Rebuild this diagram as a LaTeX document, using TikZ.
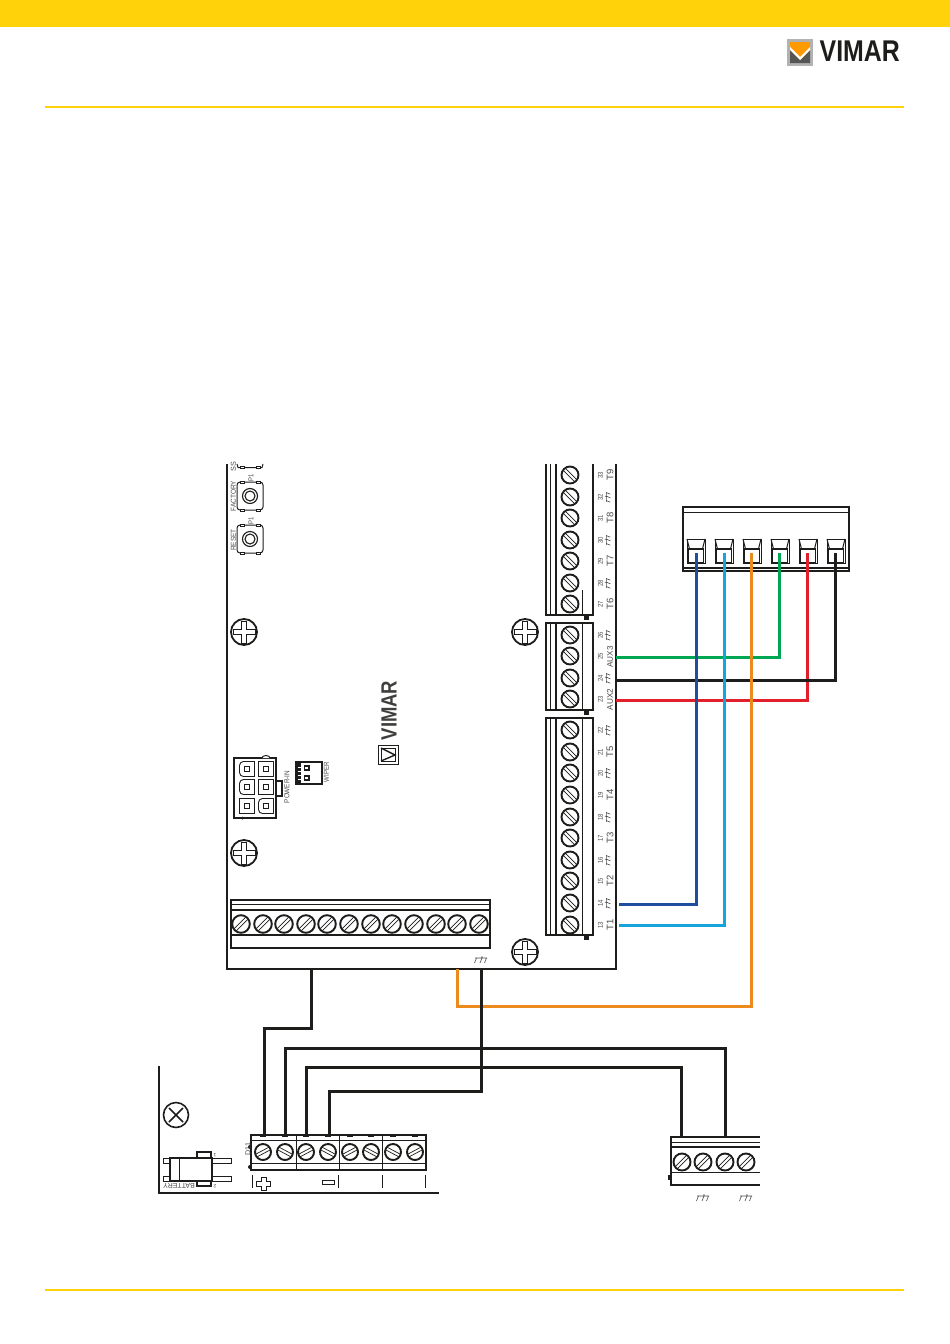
\documentclass[tikz,border=0pt]{standalone}
\usepackage{fontspec}
\setmainfont{Liberation Sans}
\definecolor{vyellow}{HTML}{FFD20A}
\definecolor{vblack}{HTML}{1D1D1B}
\definecolor{vgreen}{HTML}{00A651}
\definecolor{vred}{HTML}{E2202C}
\definecolor{vblue}{HTML}{1F4E9E}
\definecolor{vcyan}{HTML}{15A5DC}
\definecolor{vorange}{HTML}{EC8A1E}
\definecolor{tgrey}{HTML}{4A4A4A}
\tikzset{
  heavy/.style={draw=vblack,line width=2.2pt},
  mid/.style={draw=vblack,line width=1.5pt},
  fine/.style={draw=vblack,line width=0.7pt},
  wirek/.style={draw=vblack,line width=3pt,line join=miter},
  wirec/.style={line width=3pt,line join=miter},
  tiny/.style={inner sep=0pt,text=tgrey,font=\fontsize{7.2}{7.2}\selectfont,rotate=90},
  tinyn/.style={inner sep=0pt,text=tgrey,font=\fontsize{7}{7}\selectfont,rotate=90,xscale=.85},
  tlabel/.style={inner sep=0pt,text=tgrey,font=\fontsize{9.5}{9.5}\selectfont,rotate=90},
}
\newcommand{\screwhead}[4]{%
  \begin{scope}[shift={(#1,#2)},rotate=#4]
    \draw[draw=vblack,line width=1.9pt,fill=white] (0,0) circle (#3pt);
    \draw[fine] (-#3*.86,-1.5)--(#3*.86,-1.5);
    \draw[fine] (-#3*.86,1.5)--(#3*.86,1.5);
  \end{scope}}
\newcommand{\gndsym}[4]{%
  \begin{scope}[shift={(#1,#2)},rotate=#3,scale=#4]
    \draw[tgrey,line width=.6pt] (-6,-2)--(6,-2) (1,-4)--(1,-2)
      (-4.5,-2)--(-6.5,3) (1,-2)--(-1,3) (5.5,-2)--(3.5,3);
  \end{scope}}
\newcommand{\phillips}[2]{%
  \begin{scope}[shift={(#1,#2)}]
    \draw[line width=1.8pt,draw=vblack,fill=white] (0,0) circle (13pt);
    \draw[line width=.8pt,draw=vblack] (-2.5,-11)--(-2.5,-2.5)--(-11,-2.5)--(-11,2.5)--(-2.5,2.5)--(-2.5,11)--(2.5,11)--(2.5,2.5)--(11,2.5)--(11,-2.5)--(2.5,-2.5)--(2.5,-11)--cycle;
  \end{scope}}
\newcommand{\pushbtn}[2]{%
  \begin{scope}[shift={(#1,#2)}]
    \draw[line width=1pt,draw=vblack,rounded corners=3pt] (-13,-14) rectangle (13,14);
    \foreach \sx in {-8,8} \foreach \sy in {-14,14}
      \fill[white,draw=vblack,line width=.6pt] (\sx-2,\sy-1) rectangle (\sx+2,\sy+1);
    \draw[line width=1.1pt,draw=vblack] (0,0) circle (7.5pt);
    \draw[line width=1.1pt,draw=vblack] (0,0) circle (5pt);
  \end{scope}}
\newcommand{\cellbox}[1]{%
  \begin{scope}[shift={(#1,0)}]
    \draw[line width=1pt,draw=vblack] (-9,539) rectangle (9,563);
    \draw[line width=1pt,draw=vblack] (-9,539)--(-6.5,549) (9,539)--(6.5,549);
    \draw[line width=1.6pt,draw=vblack] (-7.5,549) rectangle (7.5,563);
  \end{scope}}
\newcommand{\powercell}[3]{%
  \begin{scope}[shift={(#1,#2)}]
    \ifnum#3=1
      \draw[line width=.9pt,draw=vblack,rounded corners=4pt] (0,-7.5)--(-7.5,-7.5)--(-7.5,7.5)--(0,7.5) [sharp corners] --(7.5,7.5)--(7.5,-7.5)--cycle;
    \else
      \draw[line width=.9pt,draw=vblack] (-7.5,-7.5) rectangle (7.5,7.5);
    \fi
    \draw[line width=1.1pt,draw=vblack] (-2.8,-2.5) rectangle (2.8,2.5);
  \end{scope}}
\begin{document}
\begin{tikzpicture}[x=1pt,y=-1pt,line cap=butt]
\useasboundingbox (0,0) rectangle (950,1344);
% page furniture
\fill[vyellow] (0,0) rectangle (950,27);
\draw[vyellow,line width=2pt] (45,107)--(904,107);
\draw[vyellow,line width=2pt] (45,1290)--(904,1290);
% top logo
\fill[gray!60] (787,39) rectangle (813,66);
\fill[orange!80!yellow] (790,42) rectangle (810,63);
\fill[vblack!75] (790,50)--(800,60)--(810,50)--(810,63)--(790,63)--cycle;
\fill[white] (790,47)--(800,57)--(810,47)--(810,50)--(800,60)--(790,50)--cycle;
\node[anchor=west,inner sep=0pt,text=vblack,font=\fontsize{30}{30}\selectfont\bfseries,xscale=.83] (logotop) at (819.5,51.5) {VIMAR};
% board outline
\draw[heavy] (227,464)--(227,969)--(616,969)--(616,464);
% right terminal blocks
\draw[heavy] (546,464)--(546,615)--(593,615)--(593,464);
\draw[fine] (550,464)--(550,615);
\draw[mid] (556,464)--(556,615);
\draw[fine] (582,590)--(582,615);
\fill[vblack] (584,615) rectangle (589,620);
\foreach \sy in {475,497,518,540,561,583,604} {\screwhead{570}{\sy}{8.5}{-45}}
\draw[heavy] (546,623) rectangle (593,710);
\draw[fine] (550,623)--(550,710);
\draw[mid] (556,623)--(556,710);
\draw[fine] (582,623)--(582,710);
\fill[vblack] (584,710) rectangle (589,715);
\foreach \sy in {635,656,678,699} {\screwhead{570}{\sy}{8.5}{-45}}
\draw[heavy] (546,718) rectangle (593,935);
\draw[fine] (550,718)--(550,935);
\draw[mid] (556,718)--(556,935);
\draw[fine] (582,718)--(582,935);
\fill[vblack] (584,935) rectangle (589,940);
\foreach \sy in {730,752,773,795,817,838,860,881,903,925} {\screwhead{570}{\sy}{8.5}{-45}}
% terminal numbers and labels
\foreach \num/\sy in {33/475,32/497,31/518,30/540,29/561,28/583,27/604,26/635,25/656,24/678,23/699,22/730,21/752,20/773,19/795,18/817,17/838,16/860,15/881,14/903,13/925}
  {\node[tinyn] (num\num) at (600.5,\sy) {\num};}
\foreach \name/\sy in {T9/475,T8/518,T7/561,T6/604,T5/752,T4/795,T3/838,T2/881,T1/925}
  {\node[tlabel] (lab\name) at (610,\sy) {\name};}
\node[tlabel,font=\fontsize{8.2}{8.2}\selectfont] (labAUXc) at (610,657) {AUX3};
\node[tlabel,font=\fontsize{8.2}{8.2}\selectfont] (labAUXb) at (610,699.5) {AUX2};
\foreach \sy in {497,540,583,635,678,730,773,817,860,903} {\gndsym{608}{\sy}{90}{.8}}
% buttons
\pushbtn{250}{496}
\pushbtn{250}{539}
\draw[line width=1pt,draw=vblack] (237,464)--(238,467.5)--(262,467.5)--(263,464);
\fill[white,draw=vblack,line width=.6pt] (240,466.5) rectangle (244,468.5);
\fill[white,draw=vblack,line width=.6pt] (256,466.5) rectangle (260,468.5);
\node[tiny] (lbss) at (233.5,466.5) {SS};
\node[tiny,xscale=.9] (lbfactory) at (233.5,496) {FACTORY};
\node[tiny,xscale=.9] (lbreset) at (233.5,540) {RESET};
\node[tinyn] (lbpa) at (251,477.5) {P1};
\node[tinyn] (lbpb) at (251,520.5) {P1};
% phillips screws
\phillips{244}{632}
\phillips{244}{853}
\phillips{525}{632}
\phillips{525}{952}
% power connector
\draw[line width=2pt,draw=vblack] (234,758) rectangle (276,818);
\draw[line width=1pt,draw=vblack,fill=white] (262,758) arc (180:0:4pt and 2.5pt);
\fill[vblack] (242.5,818) circle (1.5pt);
\powercell{247}{769}{1}
\powercell{266}{769}{0}
\powercell{247}{787}{1}
\powercell{266}{787}{0}
\powercell{247}{806}{0}
\powercell{266}{806}{1}
\draw[line width=1.6pt,draw=vblack] (276,781)--(282,781)--(282,796)--(276,796);
\draw[line width=1.6pt,draw=vblack] (296,762) rectangle (322,784);
\fill[vblack] (296,762) rectangle (301,784);
\foreach \sy in {768,772,776,780} {\fill[white] (298,\sy-1) rectangle (301,\sy);}
\draw[line width=1.2pt,draw=vblack] (304.5,766) rectangle (309,770);
\draw[line width=1.2pt,draw=vblack] (304.5,776) rectangle (309,780);
\node[tiny,xscale=.88] (lbpower) at (287,787) {POWER-IN};
\node[tiny,xscale=.85] (lbwiper) at (326.5,772) {WIPER};
% board logo
\draw[line width=1pt,draw=vblack] (378,745) rectangle (398,764);
\draw[line width=.8pt,draw=vblack] (381,748) rectangle (395,761);
\draw[line width=1.4pt,draw=vblack] (381,748)--(395,755)--(381,761);
\node[inner sep=0pt,rotate=90,text=vblack!85,font=\fontsize{22}{22}\selectfont\bfseries,xscale=.84] (logoboard) at (389,710.5) {VIMAR};
% board lower terminal block
\draw[heavy] (231,900) rectangle (490,948);
\draw[fine] (231,904.5)--(490,904.5);
\draw[mid] (231,910)--(490,910);
\draw[mid] (231,935)--(490,935);
\foreach \sx in {241,263,284,306,327,349,371,392,414,436,457,479} {\screwhead{\sx}{924}{8.8}{45}}
\gndsym{481}{960}{0}{1}
% connector box upper right
\draw[heavy] (683,507) rectangle (849,571);
\draw[fine] (683,512)--(849,512);
\draw[mid] (683,568)--(849,568);
\foreach \sx in {696,724,752,780,808,836} {\cellbox{\sx}}
% lower-left board
\draw[mid] (159,1066)--(159,1193)--(439,1193);
\draw[line width=1.6pt,draw=vblack] (176,1115) circle (12.5pt);
\draw[line width=1.6pt,draw=vblack] (169,1108)--(183,1122) (169,1122)--(183,1108);
% battery
\draw[fine] (163,1158) rectangle (231,1163);
\draw[fine] (163,1176) rectangle (231,1181);
\draw[line width=1.8pt,draw=vblack,fill=white] (197,1152) rectangle (211,1158);
\draw[line width=1.8pt,draw=vblack,fill=white] (197,1181) rectangle (211,1186);
\draw[line width=1.8pt,draw=vblack,fill=white] (170,1158) rectangle (212,1181);
\draw[fine] (179,1158)--(179,1181);
\node[inner sep=0pt,rotate=180,text=tgrey,font=\fontsize{7}{7}\selectfont] (lbbatt) at (179,1185.5) {BATTERY};
\node[inner sep=0pt,rotate=180,text=tgrey,font=\fontsize{5}{5}\selectfont] (lbbone) at (215,1155) {1};
\node[inner sep=0pt,rotate=180,text=tgrey,font=\fontsize{5}{5}\selectfont] (lbbtwo) at (215,1186) {2};
% lower-left terminal strip
\draw[heavy] (251,1135) rectangle (426,1170);
\draw[fine] (251,1140)--(426,1140);
\draw[fine] (251,1163.5)--(426,1163.5);
\draw[fine] (296,1135)--(296,1170) (339,1135)--(339,1170) (382,1135)--(382,1170);
\fill[vblack] (250,1147) circle (2pt);
\fill[vblack] (250,1167) circle (2pt);
\foreach \sx in {263,285,306,328,350,371,393,415} {\fill[vblack] (\sx-3,1134.5) rectangle (\sx+3,1136.5);}
\foreach \sx/\ang in {263/28,285/-28,306/28,328/-28,350/28,371/-28,393/-28,415/28} {\screwhead{\sx}{1152}{8}{\ang}}
\node[tiny] (lbd) at (248,1149) {D11};
\draw[fine] (252,1175)--(252,1188) (338,1175)--(338,1188) (382,1175)--(382,1188) (425,1175)--(425,1188);
\draw[fine] (261,1177)--(266,1177)--(266,1181)--(270,1181)--(270,1186)--(266,1186)--(266,1190)--(261,1190)--(261,1186)--(256,1186)--(256,1181)--(261,1181)--cycle;
\draw[fine] (322,1180.5) rectangle (334,1184.5);
% lower-right terminal strip
\draw[heavy] (760,1137)--(671,1137)--(671,1185)--(760,1185);
\draw[fine] (671,1142)--(760,1142);
\draw[mid] (671,1147)--(760,1147);
\draw[fine] (671,1172)--(760,1172);
\fill[vblack] (668,1175) rectangle (672,1180);
\foreach \sx in {682,703,725,746} {\screwhead{\sx}{1162}{8.5}{45}}
\gndsym{703}{1198}{0}{1}
\gndsym{746}{1198}{0}{1}
% wire anchors
\coordinate (bdGreen) at (616,657);
\coordinate (bdBlack) at (616,680);
\coordinate (bdRed) at (616,700);
\coordinate (bdBlue) at (619,904);
\coordinate (bdCyan) at (619,925);
\coordinate (bdOrange) at (457.5,969);
\coordinate (cBlue) at (696,553);
\coordinate (cCyan) at (724,553);
\coordinate (cOrange) at (751,553);
\coordinate (cGreen) at (779,553);
\coordinate (cRed) at (807,553);
\coordinate (cBlack) at (835,553);
\coordinate (bdPow) at (311,969);
\coordinate (bdGnd) at (481,969);
\coordinate (tA) at (264,1135);
\coordinate (tB) at (285.5,1135);
\coordinate (tC) at (306,1135);
\coordinate (tD) at (329,1135);
\coordinate (rA) at (681,1137);
\coordinate (rB) at (725.5,1137);
% wires
\draw[wirec,vgreen] (bdGreen)-|(cGreen);
\draw[wirec,vred] (bdRed)-|(cRed);
\draw[wirek] (bdBlack)-|(cBlack);
\draw[wirec,vblue] (bdBlue)-|(cBlue);
\draw[wirec,vcyan] (bdCyan)-|(cCyan);
\draw[wirec,vorange] (bdOrange)--(457.5,1006)-|(cOrange);
\draw[wirek] (bdPow)--(311,1028)--(264,1028)--(tA);
\draw[wirek] (tB)--(285.5,1048)-|(rB);
\draw[wirek] (tC)--(306,1067)-|(rA);
\draw[wirek] (tD)--(329,1091)-|(bdGnd);
\end{tikzpicture}
\end{document}
